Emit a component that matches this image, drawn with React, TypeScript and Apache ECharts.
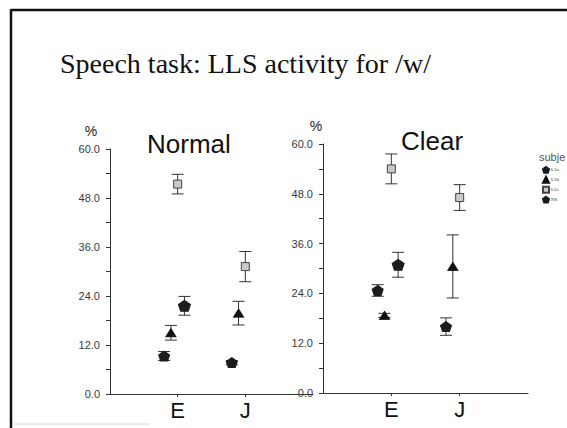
import React, { useEffect, useRef } from "react";
import * as echarts from "echarts";

const categories = ["E", "J"];
const subjects = ["L1a", "L2b", "L2c", "NS"];

// Normal condition: means and error half-widths per subject (E, J)
const normalL1a = [9.3, 7.7];
const normalL1aErr = [1.1, 0.5];
const normalL2b = [15.0, 19.8];
const normalL2bErr = [1.8, 2.9];
const normalL2c = [51.4, 31.2];
const normalL2cErr = [2.4, 3.7];
const normalNS = [21.6, null];
const normalNSErr = [2.3, null];

// Clear condition
const clearL1a = [24.7, 16.0];
const clearL1aErr = [1.4, 2.1];
const clearL2b = [18.7, 30.5];
const clearL2bErr = [0.5, 7.6];
const clearL2c = [54.0, 47.1];
const clearL2cErr = [3.6, 3.1];
const clearNS = [30.9, null];
const clearNSErr = [3.0, null];

const yTicks = [0, 12, 24, 36, 48, 60];

const panels = [
  { name: "Normal", means: [normalL1a, normalL2b, normalL2c, normalNS], errs: [normalL1aErr, normalL2bErr, normalL2cErr, normalNSErr] },
  { name: "Clear", means: [clearL1a, clearL2b, clearL2c, clearNS], errs: [clearL1aErr, clearL2bErr, clearL2cErr, clearNSErr] },
];

const pentagon = "path://M50,0 L100,36 L81,95 L19,95 L0,36 Z";
const offsets = [-0.2, -0.1, 0, 0.1];
const symbols = [pentagon, "triangle", "rect", pentagon];
const sizes = [[11, 10], [10, 8], [8, 8], [12, 11]];
const fills = ["#1c1c1c", "#111111", "#c9c9c9", "#1c1c1c"];
const borders = ["#1c1c1c", "#111111", "#444444", "#1c1c1c"];

const SANS = "'Liberation Sans', Arial, sans-serif";
const SERIF = "'Liberation Serif', 'Times New Roman', serif";

export default function App() {
  const ref = useRef<HTMLDivElement>(null);
  useEffect(() => {
    if (!ref.current) return;
    const chart = echarts.init(ref.current, null, { renderer: "svg" });

    const grids = [
      { left: 110, top: 149, width: 203, height: 245 },
      { left: 323, top: 144, width: 205, height: 249 },
    ];

    const xAxes = grids.map((_, i) => ({
      type: "value",
      gridIndex: i,
      min: 0,
      max: 3,
      interval: 1,
      splitLine: { show: false },
      axisLine: { show: true, onZero: false, lineStyle: { color: "#333", width: 1 } },
      axisTick: { show: true, length: 3, customValues: [1, 2], lineStyle: { color: "#333" } },
      axisLabel: {
        customValues: [1, 2],
        formatter: (v: number) => (v >= 1 && v <= categories.length ? categories[v - 1] : ""),
        fontSize: 22,
        fontFamily: SANS,
        color: "#111",
        margin: 5,
      },
    }));

    const yAxes = grids.map((_, i) => ({
      type: "value",
      gridIndex: i,
      min: yTicks[0],
      max: yTicks[yTicks.length - 1],
      interval: 12,
      splitLine: { show: false },
      axisLine: { show: true, lineStyle: { color: "#333", width: 1 } },
      axisTick: { show: true, length: 4, lineStyle: { color: "#333" } },
      minorTick: { show: true, splitNumber: 2, length: 4, lineStyle: { color: "#333" } },
      axisLabel: {
        formatter: (v: number) => v.toFixed(1),
        fontSize: 11,
        fontFamily: SANS,
        color: "#3a3a3a",
        margin: 10,
      },
    }));

    const series: any[] = [];
    panels.forEach((p, pi) => {
      subjects.forEach((s, si) => {
        const means = p.means[si];
        const errs = p.errs[si];
        const pts: any[] = [];
        const bars: any[] = [];
        means.forEach((m, ci) => {
          if (m == null) return;
          const x = ci + 1 + offsets[si];
          pts.push([x, m]);
          const e = errs[ci] as number;
          bars.push([x, m - e, m + e]);
        });
        series.push({
          type: "custom",
          name: s + " error",
          xAxisIndex: pi,
          yAxisIndex: pi,
          z: 1,
          data: bars,
          encode: { x: 0, y: [1, 2] },
          renderItem: (params: any, api: any) => {
            const x = api.value(0);
            const lo = api.coord([x, api.value(1)]);
            const hi = api.coord([x, api.value(2)]);
            const w = 6;
            const style = { stroke: "#333", lineWidth: 1 };
            return {
              type: "group",
              children: [
                { type: "line", shape: { x1: lo[0], y1: lo[1], x2: hi[0], y2: hi[1] }, style },
                { type: "line", shape: { x1: lo[0] - w, y1: lo[1], x2: lo[0] + w, y2: lo[1] }, style },
                { type: "line", shape: { x1: hi[0] - w, y1: hi[1], x2: hi[0] + w, y2: hi[1] }, style },
              ],
            };
          },
        });
        series.push({
          type: "scatter",
          name: s,
          xAxisIndex: pi,
          yAxisIndex: pi,
          z: 3,
          symbol: symbols[si],
          symbolSize: sizes[si],
          itemStyle: { color: fills[si], borderColor: borders[si], borderWidth: 1, opacity: 1 },
          data: pts,
        });
      });
    });

    chart.setOption({
      animation: false,
      backgroundColor: "#ffffff",
      title: [
        {
          text: "Speech task: LLS activity for /w/",
          left: 60,
          top: 49,
          padding: 0,
          textStyle: { fontFamily: SERIF, fontSize: 28, fontWeight: "normal", color: "#111" },
        },
        {
          text: panels[0].name,
          left: 147,
          top: 131,
          padding: 0,
          textStyle: { fontFamily: SANS, fontSize: 26, fontWeight: "normal", color: "#111" },
        },
        {
          text: panels[1].name,
          left: 401,
          top: 128,
          padding: 0,
          textStyle: { fontFamily: SANS, fontSize: 26, fontWeight: "normal", color: "#111" },
        },
      ],
      legend: {
        data: subjects,
        orient: "vertical",
        left: 542,
        top: 166,
        padding: 0,
        itemWidth: 6,
        itemHeight: 6,
        itemGap: 2,
        textStyle: { fontSize: 5, fontFamily: SERIF, color: "#333", padding: [0, 0, 0, -3] },
      },
      grid: grids,
      xAxis: xAxes,
      yAxis: yAxes,
      series,
      graphic: [
        { type: "line", shape: { x1: 11, y1: 10, x2: 567, y2: 10 }, style: { stroke: "#111", lineWidth: 2.5 } },
        { type: "line", shape: { x1: 11, y1: 9, x2: 11, y2: 428 }, style: { stroke: "#111", lineWidth: 2.5 } },
        { type: "line", shape: { x1: 12, y1: 424, x2: 150, y2: 424 }, style: { stroke: "#d8d8d8", lineWidth: 1 } },
        { type: "text", x: 91, y: 131, style: { text: "%", font: `14px ${SANS}`, fill: "#222", align: "center", verticalAlign: "middle" } },
        { type: "text", x: 316, y: 126, style: { text: "%", font: `14px ${SANS}`, fill: "#222", align: "center", verticalAlign: "middle" } },
        { type: "text", x: 539, y: 151, style: { text: "subje", font: `11px ${SANS}`, fill: "#555", align: "left", verticalAlign: "top" } },
      ],
    });
    return () => chart.dispose();
  }, []);
  return <div ref={ref} style={{ position: "fixed", left: 0, top: 0, width: 567, height: 428 }} />;
}
